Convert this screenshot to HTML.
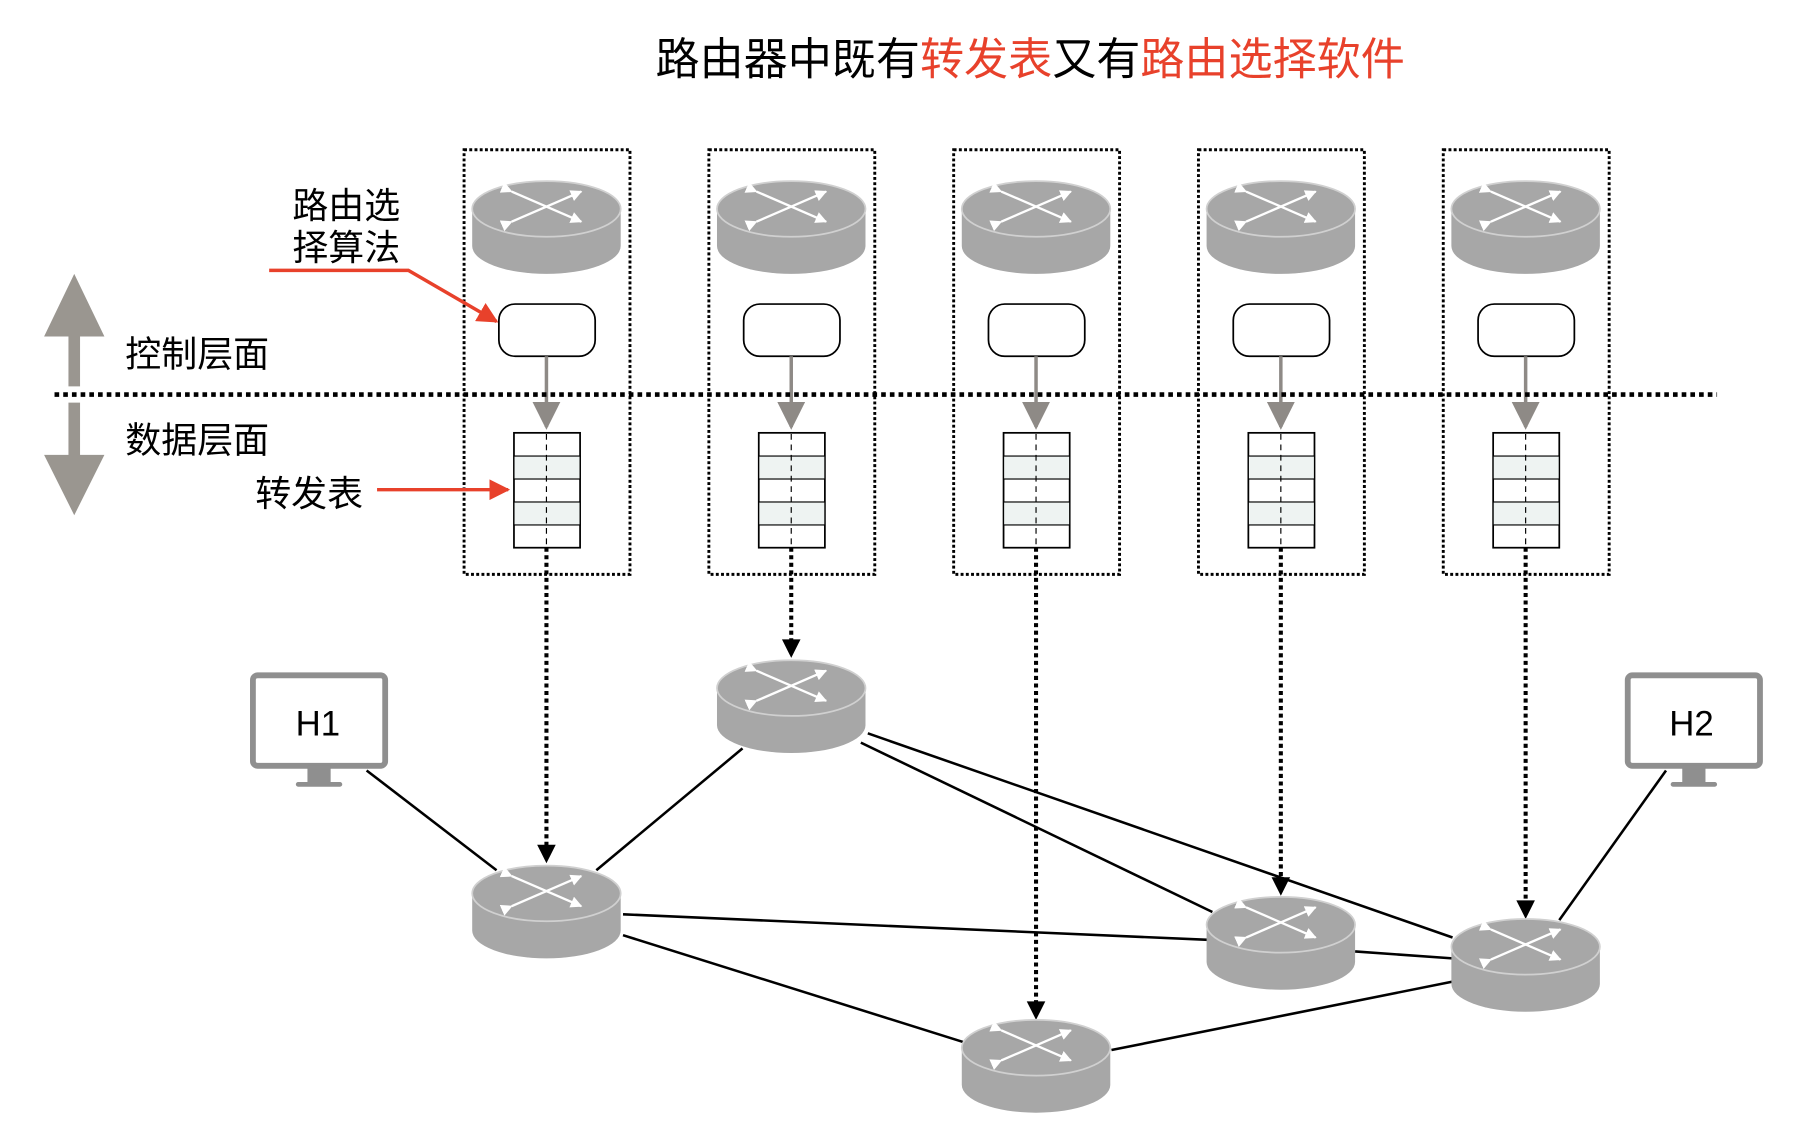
<!DOCTYPE html>
<html><head><meta charset="utf-8"><style>
html,body{margin:0;padding:0;background:#fff;width:1818px;height:1136px;overflow:hidden}
svg{display:block}
text{font-family:"Liberation Sans","Noto Sans CJK SC",sans-serif}
</style></head><body>
<svg width="1818" height="1136" viewBox="0 0 1567 979" xmlns="http://www.w3.org/2000/svg">
<defs>
<marker id="wh" viewBox="0 0 10 10" refX="9" refY="5" markerWidth="5" markerHeight="5" orient="auto"><path d="M0,0 L10,5 L0,10 Z" fill="#fff"/></marker>
<marker id="gr" viewBox="0 0 10 10" refX="9" refY="5" markerWidth="8" markerHeight="8" orient="auto"><path d="M0,0 L10,5 L0,10 Z" fill="#8e8a86"/></marker>
<marker id="rd" viewBox="0 0 10 10" refX="9" refY="5" markerWidth="6" markerHeight="6" orient="auto"><path d="M0,0 L10,5 L0,10 Z" fill="#e8412b"/></marker>
<g id="rt">
<path d="M-64,0 L-64,32 A64,24 0 0 0 64,32 L64,0 Z" fill="#a7a7a7"/>
<ellipse cx="0" cy="0" rx="64" ry="24" fill="#a7a7a7" stroke="#d0d0d0" stroke-width="1.5"/>
<line x1="-30" y1="-15" x2="30" y2="11" stroke="#fff" stroke-width="2" marker-start="url(#wh)" marker-end="url(#wh)"/>
<line x1="-30" y1="11" x2="30" y2="-15" stroke="#fff" stroke-width="2" marker-start="url(#wh)" marker-end="url(#wh)"/>
</g>
<g id="col">
<rect x="-71" y="129" width="143" height="366" fill="none" stroke="#000" stroke-width="2.5" stroke-dasharray="2.5 2"/>
<use href="#rt" x="0" y="180"/>
<rect x="-41" y="262" width="83" height="45" rx="14" fill="#fff" stroke="#000" stroke-width="1.5"/>
<line x1="0" y1="307" x2="0" y2="368" stroke="#8e8a86" stroke-width="3" marker-end="url(#gr)"/>
<rect x="-28" y="373" width="57" height="99" fill="#fff" stroke="#000" stroke-width="1.5"/>
<rect x="-28" y="393" width="57" height="19.8" fill="#eef3f2" stroke="#000" stroke-width="1"/>
<rect x="-28" y="432.6" width="57" height="19.8" fill="#eef3f2" stroke="#000" stroke-width="1"/>
<line x1="0" y1="374" x2="0" y2="471" stroke="#000" stroke-width="1" stroke-dasharray="5 4"/>
</g>
</defs>

<text x="565" y="64" font-size="38" fill="#000">路由器中既有<tspan fill="#e8412b">转发表</tspan>又有<tspan fill="#e8412b">路由选择软件</tspan></text>

<use href="#col" x="471"/><use href="#col" x="682"/><use href="#col" x="893"/><use href="#col" x="1104"/><use href="#col" x="1315"/>

<line x1="47" y1="340" x2="1480" y2="340" stroke="#000" stroke-width="4" stroke-dasharray="4 3.5"/>

<path d="M59,333 L59,290 L38,290 L64,236 L90,290 L69,290 L69,333 Z" fill="#9a9690"/>
<path d="M59,347 L59,392 L38,392 L64,444 L90,392 L69,392 L69,347 Z" fill="#9a9690"/>
<text x="108" y="316" font-size="31">控制层面</text>
<text x="108" y="390" font-size="31">数据层面</text>
<text x="252" y="188" font-size="31">路由选</text>
<text x="252" y="224" font-size="31">择算法</text>
<text x="220" y="436" font-size="31">转发表</text>
<polyline points="232,233 352,233 428,277" fill="none" stroke="#e8412b" stroke-width="3" marker-end="url(#rd)"/>
<line x1="325" y1="422" x2="438" y2="422" stroke="#e8412b" stroke-width="3" marker-end="url(#rd)"/>

<g stroke="#000" stroke-width="2.2">
<line x1="316" y1="664" x2="428" y2="750"/>
<line x1="640" y1="645" x2="514" y2="750"/>
<line x1="537" y1="788" x2="1041" y2="810"/>
<line x1="537" y1="806" x2="830" y2="898"/>
<line x1="748" y1="632" x2="1252" y2="808"/>
<line x1="742" y1="640" x2="1045" y2="786"/>
<line x1="1168" y1="820" x2="1252" y2="826"/>
<line x1="958" y1="905" x2="1252" y2="846"/>
<line x1="1436" y1="664" x2="1344" y2="793"/>
</g>

<g stroke="#000" stroke-width="3.5" stroke-dasharray="3.5 3" fill="none">
<line x1="471" y1="472" x2="471" y2="730"/>
<line x1="682" y1="472" x2="682" y2="553"/>
<line x1="893" y1="472" x2="893" y2="865"/>
<line x1="1104" y1="472" x2="1104" y2="758"/>
<line x1="1315" y1="472" x2="1315" y2="778"/>
</g>
<g fill="#000">
<path d="M463,728 L479,728 L471,744 Z"/>
<path d="M674,551 L690,551 L682,567 Z"/>
<path d="M885,863 L901,863 L893,879 Z"/>
<path d="M1096,756 L1112,756 L1104,772 Z"/>
<path d="M1307,776 L1323,776 L1315,792 Z"/>
</g>

<use href="#rt" x="471" y="770"/>
<use href="#rt" x="682" y="593"/>
<use href="#rt" x="893" y="903"/>
<use href="#rt" x="1104" y="797"/>
<use href="#rt" x="1315" y="816"/>

<g>
<rect x="218" y="582" width="114" height="78" rx="4" fill="#fff" stroke="#8f8f8f" stroke-width="5"/>
<rect x="265" y="660" width="20" height="14" fill="#8f8f8f"/>
<rect x="255" y="674" width="40" height="4" rx="2" fill="#8f8f8f"/>
<text x="274" y="634" font-size="30" text-anchor="middle">H1</text>
<rect x="1403" y="582" width="114" height="78" rx="4" fill="#fff" stroke="#8f8f8f" stroke-width="5"/>
<rect x="1450" y="660" width="20" height="14" fill="#8f8f8f"/>
<rect x="1440" y="674" width="40" height="4" rx="2" fill="#8f8f8f"/>
<text x="1458" y="634" font-size="30" text-anchor="middle">H2</text>
</g>
</svg>
</body></html>
